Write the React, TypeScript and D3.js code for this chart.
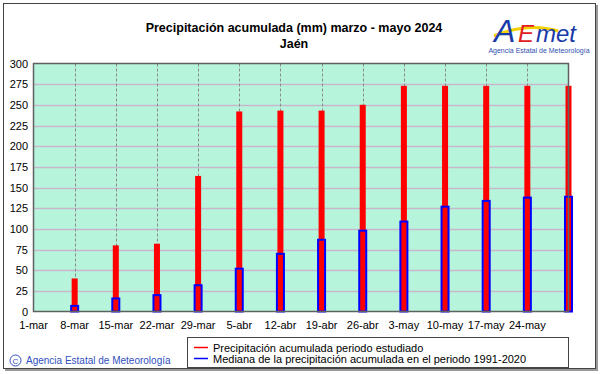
import { useEffect, useRef } from "react";
import * as d3 from "d3";

// week labels on the x axis (1-mar is the origin)
const weekLabels = [
  "1-mar", "8-mar", "15-mar", "22-mar", "29-mar", "5-abr", "12-abr",
  "19-abr", "26-abr", "3-may", "10-may", "17-may", "24-may",
];
// bars sit on weeks 1..13 (last one is 31-may, unlabelled)
const barWeeks = [1, 2, 3, 4, 5, 6, 7, 8, 9, 10, 11, 12, 13];
const observed = [40, 80, 82, 164, 242, 243, 243, 250, 273, 273, 273, 273, 273];
const median = [8, 17, 21, 33, 53, 71, 88, 99, 110, 128, 135, 139, 140];
const yTicks = [0, 25, 50, 75, 100, 125, 150, 175, 200, 225, 250, 275, 300];

const W = 601;
const H = 374;
const FONT = "Arial, 'Liberation Sans', sans-serif";

const App = () => {
  const ref = useRef<SVGSVGElement>(null);

  useEffect(() => {
    const svg = d3.select(ref.current);
    svg.selectAll("*").remove();

    const left = 33.5, right = 568.5, top = 63.5, bottom = 311.5;
    const x = d3.scaleLinear().domain([0, 13]).range([left, right]);
    const y = d3.scaleLinear().domain([0, 300]).range([bottom, top]);

    // outer frame
    svg.append("rect").attr("x", 5).attr("y", 5).attr("width", 593).attr("height", 366)
      .attr("fill", "#9a9a9a");
    svg.append("rect").attr("x", 3.5).attr("y", 3.5).attr("width", 592).attr("height", 365)
      .attr("fill", "#fff").attr("stroke", "#444");

    // plot background
    svg.append("rect").attr("x", left).attr("y", top)
      .attr("width", right - left).attr("height", bottom - top)
      .attr("fill", "#b6f4dc");

    // horizontal grid
    svg.append("g").selectAll("line").data(yTicks.slice(1, -1)).join("line")
      .attr("x1", left).attr("x2", right)
      .attr("y1", (d) => Math.round(y(d)) + 0.5).attr("y2", (d) => Math.round(y(d)) + 0.5)
      .attr("stroke", "#c8b8cc").attr("stroke-width", 1.5);

    // vertical dashed grid
    svg.append("g").selectAll("line").data(d3.range(1, 13)).join("line")
      .attr("x1", (d) => Math.round(x(d)) + 0.5).attr("x2", (d) => Math.round(x(d)) + 0.5)
      .attr("y1", top).attr("y2", bottom)
      .attr("stroke", "#8a8a8a").attr("stroke-dasharray", "3,2");

    // red bars
    svg.append("g").selectAll("rect").data(barWeeks).join("rect")
      .attr("x", (d) => x(d) - 3).attr("width", 6)
      .attr("y", (d, i) => y(observed[i])).attr("height", (d, i) => bottom - y(observed[i]))
      .attr("fill", "#ff0000");

    // median bars (hollow blue)
    svg.append("g").selectAll("rect").data(barWeeks).join("rect")
      .attr("x", (d) => x(d) - 3.5).attr("width", 7)
      .attr("y", (d, i) => y(median[i]) + 1).attr("height", (d, i) => bottom - y(median[i]) - 1)
      .attr("fill", "none").attr("stroke", "#0000ff").attr("stroke-width", 2);

    // plot border
    svg.append("rect").attr("x", left).attr("y", top)
      .attr("width", right - left).attr("height", bottom - top)
      .attr("fill", "none").attr("stroke", "#606060").attr("stroke-width", 1.5);

    // y labels
    svg.append("g").selectAll("text").data(yTicks).join("text")
      .attr("x", 28).attr("y", (d) => y(d) + 4)
      .attr("text-anchor", "end").attr("font-family", FONT).attr("font-size", 11)
      .text((d) => d);

    // x labels
    svg.append("g").selectAll("text").data(weekLabels).join("text")
      .attr("x", (d, i) => x(i)).attr("y", 329)
      .attr("text-anchor", "middle").attr("font-family", FONT).attr("font-size", 11)
      .text((d) => d);

    // title
    const t = svg.append("g").attr("font-family", FONT).attr("font-size", 12.5)
      .attr("font-weight", "bold").attr("text-anchor", "middle");
    t.append("text").attr("x", 294).attr("y", 32)
      .text("Precipitación acumulada (mm) marzo - mayo 2024");
    t.append("text").attr("x", 294).attr("y", 48).text("Jaén");

    // legend
    const lg = svg.append("g").attr("font-family", FONT).attr("font-size", 11);
    lg.append("rect").attr("x", 187.5).attr("y", 337.5).attr("width", 381).attr("height", 30)
      .attr("fill", "#fff").attr("stroke", "#444");
    const items = [
      { c: "#ff0000", t: "Precipitación acumulada periodo estudiado" },
      { c: "#0000ff", t: "Mediana de la precipitación acumulada en el periodo 1991-2020" },
    ];
    items.forEach((it, i) => {
      const yy = 347.5 + i * 11;
      lg.append("line").attr("x1", 194).attr("x2", 208).attr("y1", yy).attr("y2", yy)
        .attr("stroke", it.c).attr("stroke-width", 1.5);
      lg.append("text").attr("x", 213).attr("y", yy + 4).text(it.t);
    });

    // copyright
    const cp = svg.append("g").attr("fill", "#3050c0").attr("font-family", FONT);
    cp.append("circle").attr("cx", 15.5).attr("cy", 360.5).attr("r", 5.5)
      .attr("fill", "none").attr("stroke", "#3050c0");
    cp.append("text").attr("x", 15.5).attr("y", 363.5).attr("text-anchor", "middle")
      .attr("font-size", 8).text("C");
    cp.append("text").attr("x", 26).attr("y", 364).attr("font-size", 10)
      .text("Agencia Estatal de Meteorología");

    // logo
    const lo = svg.append("g");
    lo.append("path").attr("d", "M494,36 Q528,22 558,31")
      .attr("fill", "none").attr("stroke", "#f5d000").attr("stroke-width", 3);
    lo.append("text").attr("x", 494).attr("y", 42).attr("font-family", FONT)
      .attr("font-size", 32).attr("font-style", "italic").attr("fill", "#1a3aa8")
      .text("A");
    lo.append("text").attr("x", 518).attr("y", 42).attr("font-family", FONT)
      .attr("font-size", 24).attr("font-style", "italic").attr("fill", "#e02020").text("E");
    lo.append("text").attr("x", 536).attr("y", 42).attr("font-family", FONT)
      .attr("font-size", 24).attr("font-style", "italic").attr("fill", "#1a3aa8").text("met");
    lo.append("text").attr("x", 539).attr("y", 53).attr("text-anchor", "middle")
      .attr("font-family", FONT).attr("font-size", 7).attr("fill", "#3050b0")
      .text("Agencia Estatal de Meteorología");
  }, []);

  return (
    <svg ref={ref} width={W} height={H}
      style={{ position: "absolute", left: 0, top: 0, display: "block" }} />
  );
};

export default App;
